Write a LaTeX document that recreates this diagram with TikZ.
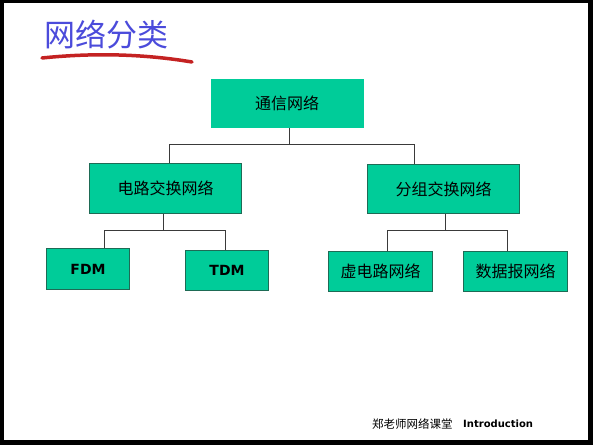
\documentclass[tikz,border=0pt]{standalone}
\usepackage{fontspec}
\setmainfont{Liberation Sans}
\newfontfamily\cjk{Noto Sans CJK SC}
\newfontfamily\latinbold{DejaVu Sans}
\definecolor{boxgreen}{HTML}{00CC99}
\definecolor{boxedge}{HTML}{1E6B55}
\definecolor{titleblue}{HTML}{4B4BDB}
\definecolor{brushred}{HTML}{C42222}
\definecolor{linkgray}{HTML}{3A3A3A}
\begin{document}
\begin{tikzpicture}[x=1pt,y=-1pt,
  gbox/.style={fill=boxgreen,draw=boxedge,line width=1pt,inner sep=0pt,anchor=north west,font=\cjk\fontsize{16}{18}\selectfont},
  link/.style={draw=linkgray,line width=0.9pt}]
\useasboundingbox (0,0) rectangle (593,445);
\fill[black] (0,0) rectangle (593,445);
\fill[white] (4,3) rectangle (588,440);
% title
\node[anchor=west,text=titleblue,font=\cjk\fontsize{31}{34}\selectfont,inner sep=0pt] (title) at (44,35) {网络分类};
\draw[brushred,line width=3.5pt,line cap=round] (42,58) .. controls (100,52) and (150,55) .. (192,62);
% boxes
\node[gbox,draw=none,minimum width=153pt,minimum height=49pt] (root) at (210,78) {通信网络};
\node[gbox,minimum width=152pt,minimum height=50pt] (cs) at (89,163) {电路交换网络};
\node[gbox,minimum width=152pt,minimum height=49pt] (ps) at (367,164) {分组交换网络};
\node[gbox,minimum width=83pt,minimum height=41pt,font=\latinbold\bfseries\fontsize{14}{16}\selectfont] (fdm) at (46,248) {FDM};
\node[gbox,minimum width=83pt,minimum height=40pt,font=\latinbold\bfseries\fontsize{14}{16}\selectfont] (tdm) at (185,250) {TDM};
\node[gbox,minimum width=104pt,minimum height=40pt] (vc) at (328,251) {虚电路网络};
\node[gbox,minimum width=104pt,minimum height=40pt] (dg) at (463,251) {数据报网络};
% connectors
\coordinate (j1) at (289,144);
\coordinate (j2) at (163,230);
\coordinate (j3) at (445,230);
\draw[link] (root.south -| j1) -- (j1);
\draw[link] (cs.north -| 169,0) -- (169,144) -- (414,144) -- (ps.north -| 414,0);
\draw[link] (cs.south -| j2) -- (j2);
\draw[link] (fdm.north -| 104,0) -- (104,230) -- (225,230) -- (tdm.north -| 225,0);
\draw[link] (ps.south -| j3) -- (j3);
\draw[link] (vc.north -| 387,0) -- (387,230) -- (507,230) -- (dg.north -| 507,0);
% footer
\node[anchor=west,inner sep=0pt,font=\cjk\fontsize{11.5}{13}\selectfont] (f1) at (372,424) {郑老师网络课堂};
\node[anchor=west,inner sep=0pt,font=\latinbold\bfseries\fontsize{10}{12}\selectfont] (f2) at (463,424) {Introduction};
\end{tikzpicture}
\end{document}
